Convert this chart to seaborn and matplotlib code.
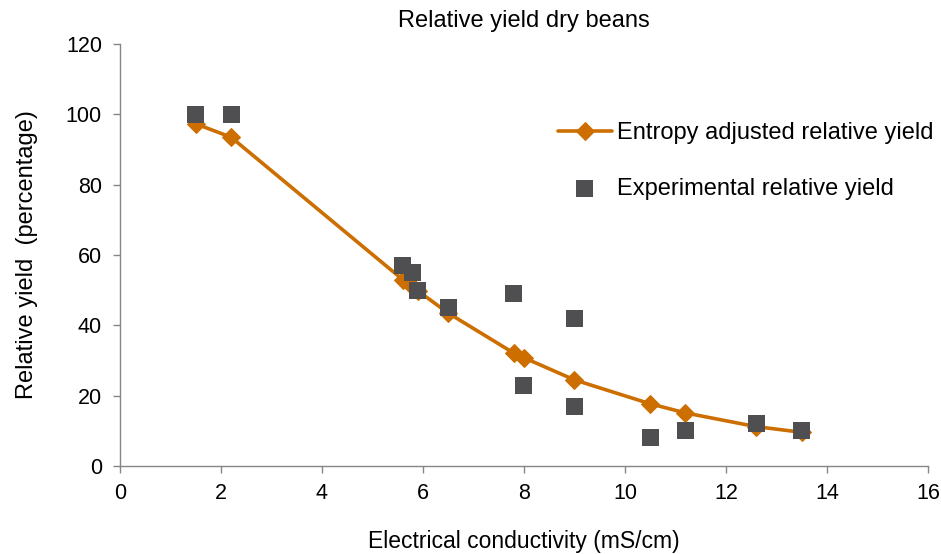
import numpy as np
import pandas as pd
import seaborn as sns
import matplotlib.pyplot as plt

# experimental relative yield
exp_ec = [1.5, 2.2, 5.6, 5.8, 5.9, 6.5, 7.8, 8.0, 9.0, 9.0, 10.5, 11.2, 12.6, 13.5]
exp_yield = [100, 100, 57, 55, 50, 45, 49, 23, 42, 17, 8, 10, 12, 10]

# entropy adjusted relative yield
ent_ec = [1.5, 2.2, 5.6, 5.8, 5.9, 6.5, 7.8, 8.0, 9.0, 10.5, 11.2, 12.6, 13.5]
ent_yield = [97.3, 93.5, 53, 51, 49.8, 43.5, 32.1, 30.8, 24.5, 17.7, 15.1, 11.2, 9.6]

df_exp = pd.DataFrame({'ec': exp_ec, 'y': exp_yield})
df_ent = pd.DataFrame({'ec': ent_ec, 'y': ent_yield})

sns.set_style('white')
plt.rcParams['font.family'] = ['Liberation Sans', 'DejaVu Sans']
plt.rcParams['text.color'] = 'black'
plt.rcParams['axes.labelcolor'] = 'black'

fig = plt.figure(figsize=(9.41, 5.54), dpi=100)
ax = fig.add_axes([0.1275, 0.1588, 0.8585, 0.7618])

orange = '#CC6F00'
grey = '#4F4F51'

sns.lineplot(data=df_ent, x='ec', y='y', ax=ax, color=orange, lw=2.6,
             marker='D', markersize=9, markeredgecolor=orange,
             label='Entropy adjusted relative yield', sort=False)
sns.scatterplot(data=df_exp, x='ec', y='y', ax=ax, color=grey, marker='s',
                s=150, edgecolor='none', label='Experimental relative yield', zorder=3)

ax.set_xlim(0, 16)
ax.set_ylim(0, 120)
ax.set_xticks(range(0, 17, 2))
ax.set_yticks(range(0, 121, 20))
ax.tick_params(axis='both', labelsize=15.5, direction='out', length=5,
               color='#868686', labelcolor='black', width=1,
               left=True, bottom=True)
ax.tick_params(axis='y', pad=8)
ax.tick_params(axis='x', pad=7)
for s in ['top', 'right']:
    ax.spines[s].set_visible(False)
for s in ['left', 'bottom']:
    ax.spines[s].set_color('#868686')
    ax.spines[s].set_linewidth(1)

ax.set_title('Relative yield dry beans', fontsize=17, pad=12)
ax.set_xlabel('Electrical conductivity (mS/cm)', fontsize=16.5, labelpad=19)
ax.set_ylabel('Relative yield  (percentage)', fontsize=17, labelpad=20)

ax.legend(loc='upper left', bbox_to_anchor=(0.53, 0.838), frameon=False,
          fontsize=17, handlelength=2.3, labelspacing=1.45, handletextpad=0.2,
          borderaxespad=0)

fig.savefig('out.png', dpi=100)
